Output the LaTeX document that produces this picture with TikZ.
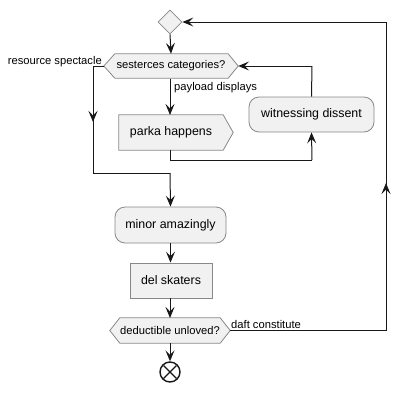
\documentclass[tikz,border=0pt]{standalone}
\usepackage{fontspec}
\setmainfont{Liberation Sans}
\usetikzlibrary{arrows.meta,shapes.geometric,calc}
\definecolor{boxfill}{HTML}{F1F1F1}
\definecolor{boxline}{HTML}{888888}
\definecolor{wire}{HTML}{181818}
\tikzset{
  boxtext/.style={font=\fontsize{12.4}{14}\selectfont, text=black},
  smalltext/.style={font=\fontsize{11.2}{13}\selectfont, text=black, inner sep=0pt},
  shapeline/.style={draw=boxline, fill=boxfill, line width=0.8pt},
  actbox/.style={boxtext, shapeline, rounded corners=10pt, inner sep=0pt},
  rectbox/.style={boxtext, shapeline, inner sep=0pt},
  ghost/.style={inner sep=0pt},
  flow/.style={draw=wire, line width=1pt, -{Stealth[length=11pt,width=9pt,inset=4.5pt]}},
  flowplain/.style={draw=wire, line width=1pt},
}
\begin{document}
\begin{tikzpicture}[x=1pt,y=-1pt]
\useasboundingbox (0,0) rectangle (410,392);

% merge diamond at the top
\node[diamond, shapeline, inner sep=0pt, minimum width=24pt, minimum height=24pt] (merge) at (170,22) {};

% first decision hexagon
\node[ghost, minimum width=134pt, minimum height=24pt] (dec1) at (171,66) {};
\draw[shapeline] (dec1.west) -- ($(dec1.north west)+(11,0)$) -- ($(dec1.north east)+(-10,0)$)
  -- (dec1.east) -- ($(dec1.south east)+(-10,0)$) -- ($(dec1.south west)+(11,0)$) -- cycle;
\node[smalltext] at (dec1) {sesterces categories?};

% parka happens (signal shape)
\node[ghost, minimum width=114pt, minimum height=35pt] (parka) at (176,132.5) {};
\draw[shapeline] (parka.north west) -- ($(parka.north east)+(-10,0)$) -- (parka.east)
  -- ($(parka.south east)+(-10,0)$) -- (parka.south west) -- cycle;
\node[boxtext] at (171,132.5) {parka happens};

% witnessing dissent
\node[actbox, minimum width=125pt, minimum height=35pt] (wit) at (311.5,114.5) {witnessing dissent};

% minor amazingly
\node[actbox, minimum width=111pt, minimum height=36pt] (minor) at (170.5,225) {minor amazingly};

% del skaters
\node[rectbox, minimum width=82pt, minimum height=35pt] (del) at (171,280.5) {del skaters};

% second decision hexagon
\node[ghost, minimum width=120pt, minimum height=25pt] (dec2) at (170,330.5) {};
\draw[shapeline] (dec2.west) -- ($(dec2.north west)+(10,0)$) -- ($(dec2.north east)+(-10,0)$)
  -- (dec2.east) -- ($(dec2.south east)+(-10,0)$) -- ($(dec2.south west)+(10,0)$) -- cycle;
\node[smalltext] at (dec2) {deductible unloved?};

% final stop symbol
\node[circle, draw=wire, fill=white, line width=1.4pt, minimum size=20pt, inner sep=0pt] (stop) at (170,372) {};
\draw[wire, line width=1.4pt] ($(stop)+(-6.5,-6.5)$) -- ($(stop)+(6.5,6.5)$);
\draw[wire, line width=1.4pt] ($(stop)+(-6.5,6.5)$) -- ($(stop)+(6.5,-6.5)$);

% routing points
\coordinate (lft) at (93,66);
\coordinate (join) at (93,173);
\coordinate (joinmid) at (170,173);
\coordinate (under) at (170,160);
\coordinate (underR) at (312,160);
\coordinate (witup) at (312,66);
\coordinate (backR) at (386,330.5);
\coordinate (backT) at (386,22);
\coordinate (arrL) at (93,122);
\coordinate (arrR) at (386,183);

% connectors
\draw[flow] (merge.south) -- (dec1.south |- dec1.north);
\draw[flow] (170,78.5) -- (170,115);
\draw[flowplain] (dec1.west) -- (lft) -- (join) -- (joinmid);
\draw[flow] (lft) -- (arrL);
\draw[flow] (joinmid) -- (minor.north);
\draw[flowplain] (170,150) -- (under) -- (underR);
\draw[flow] (underR) -- (wit.south);
\draw[flowplain] (wit.north) -- (witup);
\draw[flow] (witup) -- (dec1.east);
\draw[flow] (minor.south) -- (del.north -| minor.south);
\draw[flow] (170,298) -- (170,318);
\draw[flow] (170,343) -- (stop.north);
\draw[flowplain] (dec2.east) -- (backR) -- (backT);
\draw[flow] (backR) -- (arrR);
\draw[flow] (backT) -- (merge.east);

% branch labels
\node[smalltext, anchor=base east] at (102,64) {resource spectacle};
\node[smalltext, anchor=base west] at (174,90) {payload displays};
\node[smalltext, anchor=base west] at (231,328) {daft constitute};
\end{tikzpicture}
\end{document}
